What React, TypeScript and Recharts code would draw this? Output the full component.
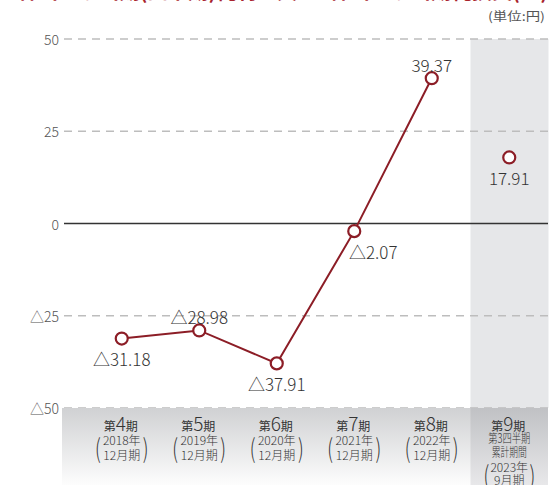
import {
  ComposedChart,
  Line,
  Bar,
  XAxis,
  YAxis,
  ReferenceLine,
  LabelList
} from 'recharts';

const periods = ['第4期', '第5期', '第6期', '第7期', '第8期', '第9期'];
const periodNums = ['4', '5', '6', '7', '8', '9'];
const years = ['2018年', '2019年', '2020年', '2021年', '2022年', '2023年'];
const months = ['12月期', '12月期', '12月期', '12月期', '12月期', '9月期'];
const annualEps = [-31.18, -28.98, -37.91, -2.07, 39.37, null];
const quarterEps = [null, null, null, null, null, 17.91];
const labelPos = ['below', 'above', 'below', 'belowRight', 'above', 'below'];
const yTicks = [-50, -25, 0, 25, 50];

const RED = '#8c1d26';
const FONT = '"Noto Sans CJK JP", "Noto Sans", sans-serif';

const data = periods.map((p, i) => ({
  period: p,
  annual: annualEps[i],
  quarter: quarterEps[i],
  band: i === periods.length - 1 ? [-50, 50] : null
}));

const fmt = (v: number) => (v < 0 ? '△' + Math.abs(v).toFixed(2) : v.toFixed(2));

const PointLabel = (props: any) => {
  const { x, y, value, index } = props;
  if (value == null) return null;
  const pos = labelPos[index];
  let dx = 0;
  let dy = 0;
  if (pos === 'above') dy = -14;
  if (pos === 'below') dy = 20;
  if (pos === 'belowRight') {
    dx = 19;
    dy = 20;
  }
  return (
    <text
      x={x + dx}
      y={y + dy}
      textAnchor="middle"
      dominantBaseline="central"
      fontSize={17}
      fontWeight={300}
      fill="#333"
      fontFamily={FONT}
    >
      {fmt(value)}
    </text>
  );
};

const Dot = (props: any) => {
  const { cx, cy, value } = props;
  if (value == null || cx == null || cy == null) return null;
  return <circle cx={cx} cy={cy} r={6} fill="#fff" stroke={RED} strokeWidth={2.2} />;
};

const YTick = (props: any) => {
  const { y, payload } = props;
  const v = payload.value;
  return (
    <text x={59} y={y} textAnchor="end" dominantBaseline="central" fontSize={14} fontWeight={300} fill="#555" fontFamily={FONT}>
      {v < 0 ? '△' + Math.abs(v) : v}
    </text>
  );
};

// narrow tall bracket, scaled horizontally around its own anchor
const Paren = ({ x, y, ch }: { x: number; y: number; ch: string }) => (
  <text
    x={x}
    y={y}
    textAnchor="middle"
    fontSize={26}
    fontWeight={200}
    transform={`translate(${x} ${y}) scale(0.7 1) translate(${-x} ${-y})`}
  >
    {ch}
  </text>
);

const XTick = (props: any) => {
  const { x, index } = props;
  const top = 408;
  const bw = 77.5;
  const last = index === periods.length - 1;
  const left = index === 0 ? x - bw / 2 - 21 : x - bw / 2;
  const right = x + bw / 2 + (last ? 0 : 0.6);
  const grad = last ? 'url(#gradDark)' : 'url(#gradLight)';
  return (
    <g fontFamily={FONT} fill="#333">
      <rect x={left} y={top} width={right - left} height={77} fill={grad} />
      <text x={x - 1} y={top + 23} textAnchor="middle">
        <tspan fontSize={12}>第</tspan>
        <tspan fontSize={19} fontWeight={300}>{periodNums[index]}</tspan>
        <tspan fontSize={12}>期</tspan>
      </text>
      {!last && (
        <>
          <text x={x} y={top + 37} textAnchor="middle" fontSize={12} fontWeight={300}>{years[index]}</text>
          <text x={x} y={top + 52} textAnchor="middle" fontSize={12} fontWeight={300}>{months[index]}</text>
          <Paren x={x - 24} y={top + 50} ch="(" />
          <Paren x={x + 24} y={top + 50} ch=")" />
        </>
      )}
      {last && (
        <>
          <text x={x} y={top + 35} textAnchor="middle" fontSize={12.5} fontWeight={300} textLength={42} lengthAdjust="spacingAndGlyphs">第3四半期</text>
          <text x={x} y={top + 49} textAnchor="middle" fontSize={12.5} fontWeight={300} textLength={35} lengthAdjust="spacingAndGlyphs">累計期間</text>
          <text x={x} y={top + 64} textAnchor="middle" fontSize={12} fontWeight={300}>{years[index]}</text>
          <text x={x} y={top + 77} textAnchor="middle" fontSize={12} fontWeight={300}>{months[index]}</text>
          <Paren x={x - 23} y={top + 77} ch="(" />
          <Paren x={x + 23} y={top + 77} ch=")" />
        </>
      )}
    </g>
  );
};

export default function App() {
  return (
    <div style={{ position: 'absolute', left: 0, top: 0, width: 556, height: 485, background: '#fff', overflow: 'hidden' }}>
      <svg width={556} height={30} style={{ position: 'absolute', left: 0, top: 0 }}>
        <text x={6} y={-1} fontSize={20} fontWeight={700} fill="#a8232d" fontFamily={FONT} textLength={542} lengthAdjust="spacingAndGlyphs">
          1株当たり当期(四半期)純利益又は1株当たり当期純損失(△)
        </text>
        <text x={545} y={21} textAnchor="end" fontSize={12} fill="#555" fontFamily={FONT} textLength={57} lengthAdjust="spacingAndGlyphs">
          (単位:円)
        </text>
      </svg>
      <ComposedChart
        width={556}
        height={485}
        data={data}
        margin={{ top: 39, right: 8, bottom: 0, left: 0 }}
        barCategoryGap={0}
        style={{ position: 'absolute', left: 0, top: 0 }}
      >
        <defs>
          <linearGradient id="gradLight" x1="0" y1="0" x2="0" y2="1">
            <stop offset="0%" stopColor="#d0d1d3" />
            <stop offset="100%" stopColor="#fdfdfd" />
          </linearGradient>
          <linearGradient id="gradDark" x1="0" y1="0" x2="0" y2="1">
            <stop offset="0%" stopColor="#c0c1c4" />
            <stop offset="100%" stopColor="#e8e8ea" />
          </linearGradient>
        </defs>
        <XAxis
          dataKey="period"
          type="category"
          height={77}
          interval={0}
          tickLine={false}
          axisLine={false}
          padding={{ left: 19, right: 0 }}
          tick={<XTick />}
        />
        <YAxis
          domain={[-50, 50]}
          ticks={yTicks}
          width={64}
          tickLine={false}
          axisLine={false}
          tick={<YTick />}
        />
        <Bar dataKey="band" fill="#e6e7e9" isAnimationActive={false} />
        {[50, 25, -25, -50].map(v => (
          <ReferenceLine key={v} y={v} stroke="#bdbdbd" strokeWidth={1.5} strokeDasharray="8 6" />
        ))}
        <ReferenceLine y={0} stroke="#333" strokeWidth={1.5} />
        <Line
          dataKey="annual"
          stroke={RED}
          strokeWidth={2}
          dot={<Dot />}
          activeDot={false}
          isAnimationActive={false}
        >
          <LabelList dataKey="annual" content={<PointLabel />} />
        </Line>
        <Line
          dataKey="quarter"
          stroke={RED}
          strokeWidth={2}
          dot={<Dot />}
          activeDot={false}
          isAnimationActive={false}
        >
          <LabelList dataKey="quarter" content={<PointLabel />} />
        </Line>
      </ComposedChart>
    </div>
  );
}
